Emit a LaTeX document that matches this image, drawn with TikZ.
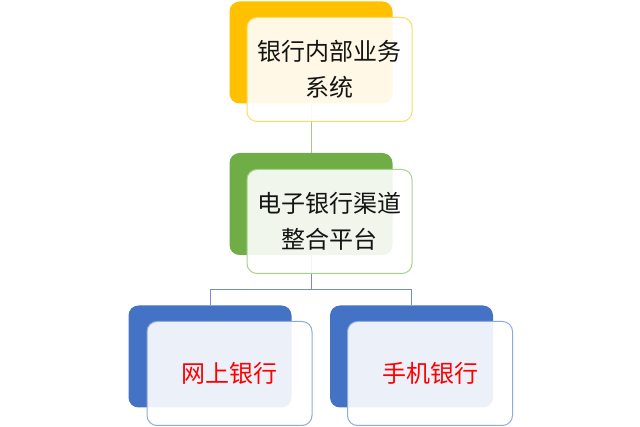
\documentclass[tikz,border=0pt]{standalone}
\usepackage{fontspec}
\newfontfamily\cjk{Noto Sans CJK SC}
\definecolor{gold}{HTML}{FFC000}
\definecolor{goldline}{HTML}{FFD966}
\definecolor{grn}{HTML}{70AD47}
\definecolor{grnline}{HTML}{A9D18E}
\definecolor{blu}{HTML}{4472C4}
\definecolor{bluline}{HTML}{8FAADC}
\definecolor{conngrn}{HTML}{A9C48F}
\definecolor{connblu}{HTML}{6F8FCF}
\definecolor{txt}{HTML}{141414}
\begin{document}
\begin{tikzpicture}[x=1pt,y=-1pt,
  backbox/.style={rectangle, rounded corners=10pt, minimum width=163pt, minimum height=102pt, inner sep=0pt, draw=none},
  frontbox/.style={rectangle, rounded corners=10pt, minimum width=165pt, minimum height=104pt, inner sep=0pt, fill=white, fill opacity=0.9, text opacity=1, line width=1pt, align=center, font=\cjk\fontsize{24pt}{36pt}\selectfont},
  conn/.style={line width=0.9pt}]
\useasboundingbox (0,0) rectangle (640,427);
\fill[white] (0,0) rectangle (640,427);
% back boxes
\node[backbox, fill=gold] (tb) at (311,52.5) {};
\node[backbox, fill=grn] (mb) at (311,204) {};
\node[backbox, fill=blu] (lb) at (210,356.5) {};
\node[backbox, fill=blu] (rb) at (411.5,356.5) {};
% connectors
\coordinate (j) at (311,289);
\draw[conn, conngrn] (tb.south) -- (mb.north);
\draw[conn, connblu] (mb.south) -- (j) -| (lb.north);
\draw[conn, connblu] (j) -| (rb.north);
% front boxes
\node[frontbox, draw=goldline, text=txt] (tf) at (329.5,69.5) {银行内部业务\\系统};
\node[frontbox, draw=grnline, text=txt] (mf) at (329.5,221.5) {电子银行渠道\\整合平台};
\node[frontbox, draw=bluline, text=red] (lf) at (229.5,373.5) {网上银行};
\node[frontbox, draw=bluline, text=red] (rf) at (430,373.5) {手机银行};
\end{tikzpicture}
\end{document}
